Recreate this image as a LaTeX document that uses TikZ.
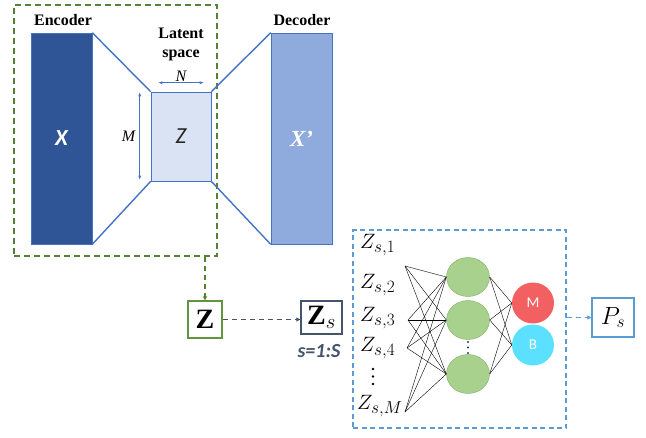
\documentclass[tikz,border=0pt]{standalone}
\usepackage{fontspec}
\setmainfont{Liberation Serif}
\newfontfamily\calib{Carlito}
\DeclareMathSizes{22}{22}{17}{12}
\DeclareMathSizes{24}{24}{17}{12}
\usetikzlibrary{arrows.meta,positioning,shapes.geometric}
\definecolor{encblue}{RGB}{47,85,151}
\definecolor{decblue}{RGB}{143,170,220}
\definecolor{latfill}{RGB}{218,227,243}
\definecolor{linkblue}{RGB}{68,114,196}
\definecolor{aegreen}{RGB}{84,130,53}
\definecolor{zgreen}{RGB}{96,150,62}
\definecolor{slate}{RGB}{68,84,106}
\definecolor{nnblue}{RGB}{91,155,213}
\definecolor{hidgreen}{RGB}{169,209,142}
\definecolor{hidedge}{RGB}{130,175,105}
\definecolor{mred}{RGB}{242,96,98}
\definecolor{bcyan}{RGB}{92,224,255}

\begin{document}
\begin{tikzpicture}[x=1pt,y=-1pt]
\tikzset{
  bar/.style={draw=linkblue,line width=0.6pt,inner sep=0pt,minimum width=61pt,minimum height=211pt},
  head/.style={font=\fontsize{16}{19}\selectfont\bfseries,align=center},
  link/.style={linkblue,line width=1.4pt},
  dimarrow/.style={{Stealth[length=4pt,width=3pt]}-{Stealth[length=4pt,width=3pt]},linkblue,line width=0.5pt},
  dimlab/.style={font=\fontsize{16}{16}\selectfont\itshape,text=black},
  dashbox/.style={dashed,dash pattern=on 6pt off 4pt,inner sep=0pt},
  vecbox/.style={line width=1.3pt,inner sep=0pt},
  flow/.style={dashed,dash pattern=on 5pt off 4pt,line width=1.4pt,-{Triangle[length=4pt,width=4pt]}},
  hid/.style={ellipse,fill=hidgreen,draw=hidedge,line width=0.4pt,minimum width=43pt,minimum height=39pt,inner sep=0pt},
  outn/.style={ellipse,minimum width=42pt,minimum height=41pt,inner sep=0pt,text=white,font=\calib\fontsize{15}{15}\selectfont},
  inlab/.style={anchor=base west,inner sep=0pt,font=\fontsize{22}{22}\selectfont},
  wire/.style={black,line width=0.4pt}
}
\useasboundingbox (0,0) rectangle (646,437);

% autoencoder
\node[dashbox,draw=aegreen,line width=1.6pt,minimum width=203pt,minimum height=251pt] (ae) at (115.5,130.5) {};
\node[bar,fill=encblue] (enc) at (61.5,138.5) {};
\node[bar,fill=latfill,minimum width=60pt,minimum height=89pt] (lat) at (181,136.5) {};
\node[bar,fill=decblue] (dec) at (301.5,138.5) {};
\node[text=white,font=\calib\fontsize{23}{23}\selectfont\bfseries\itshape] at (enc) {X};
\node[text=black!85,font=\calib\fontsize{23}{23}\selectfont\itshape] at (lat) {Z};
\node[text=white,font=\fontsize{23}{23}\selectfont\bfseries\itshape] at (dec) {X’};
\node[head] (enclab) at (63,20) {Encoder};
\node[head] (latlab) at (181,44) {Latent\\space};
\node[head] (declab) at (302,20) {Decoder};
\draw[link] (enc.north east) -- (lat.north west);
\draw[link] (enc.south east) -- (lat.south west);
\draw[link] (lat.north east) -- (dec.north west);
\draw[link] (lat.south east) -- (dec.south west);
\draw[dimarrow] ([xshift=8pt,yshift=9pt]lat.north west) -- ([xshift=-8pt,yshift=9pt]lat.north east)
  node[midway,above=-2pt,dimlab] {N};
\draw[dimarrow] ([xshift=-11pt,yshift=-1pt]lat.north west) -- ([xshift=-11pt,yshift=2pt]lat.south west)
  node[midway,left=1pt,dimlab] {M};

% latent vectors
\node[vecbox,draw=zgreen,minimum width=34pt,minimum height=37pt,font=\fontsize{28}{28}\selectfont\bfseries] (zg) at (205,319.5) {Z};
\node[vecbox,draw=slate,minimum width=41pt,minimum height=33pt,font=\fontsize{28}{28}\selectfont\bfseries] (zs) at (321.5,317.5) {Z$_s$};
\node[text=slate,font=\calib\fontsize{20}{20}\selectfont\bfseries\itshape] (srange) at (319,351) {s=1:S};
\draw[flow,aegreen] (zg.north |- ae.south) -- (zg);
\draw[flow,slate] (zg.east) -- (zs.west |- zg.east);

% classifier
\node[dashbox,draw=nnblue,line width=1.2pt,dash pattern=on 5pt off 3.5pt,minimum width=213pt,minimum height=198pt] (nn) at (459.5,329) {};
\node[inlab] (z1) at (360,248) {$Z_{s,1}$};
\node[inlab] (z2) at (360,288) {$Z_{s,2}$};
\node[inlab] (z3) at (360,321) {$Z_{s,3}$};
\node[inlab] (z4) at (360,351) {$Z_{s,4}$};
\node[inlab] (zm) at (357,409) {$Z_{s,M}$};
\foreach \k in {0,1,2} \fill (373,{369+\k*7.5}) circle (1.4pt);
\coordinate (in1) at (405,266);
\coordinate (in2) at (408,320);
\coordinate (in3) at (407,348);
\coordinate (in4) at (405,412);
\node[hid] (h1) at (468,277) {};
\node[hid] (h2) at (468,320) {};
\node[hid] (h3) at (468,374) {};
\foreach \k in {0,1,2} \fill[encblue!70!black] (468,{342+\k*5.5}) circle (1.2pt);
\node[outn,fill=mred] (om) at (533,303) {M};
\node[outn,fill=bcyan] (ob) at (533,345) {B};
\foreach \i in {in1,in2,in3,in4}
  \foreach \h in {h1,h2,h3}
    \draw[wire] (\i) -- (\h.west);
\foreach \h in {h1,h2,h3}
  \foreach \o in {om,ob}
    \draw[wire] (\h.east) -- (\o.west);
\node[vecbox,draw=nnblue,line width=1.2pt,minimum width=42pt,minimum height=39pt,font=\fontsize{24}{24}\selectfont] (ps) at (613,317.5) {$P_s$};
\draw[flow,nnblue,line width=1.2pt] (nn.east |- ps) -- (ps);
\end{tikzpicture}
\end{document}
